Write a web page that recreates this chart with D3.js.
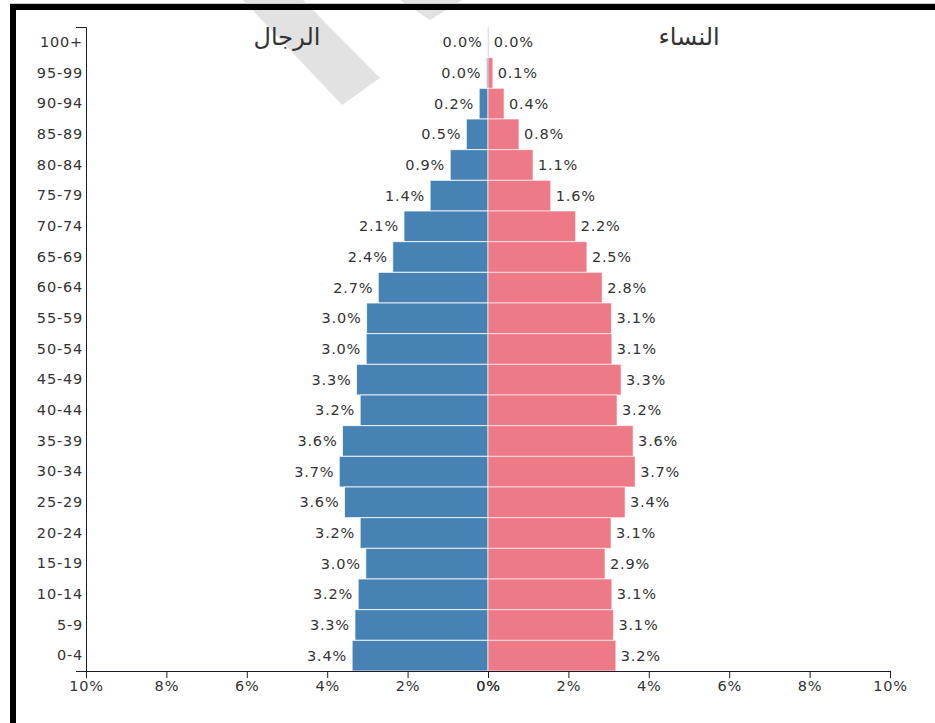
<!DOCTYPE html>
<html>
<head>
<meta charset="utf-8">
<script src="https://cdn.jsdelivr.net/npm/d3@7"></script>
<style>
  body { margin: 0; background: #fff; }
  text { font-family: "DejaVu Sans", sans-serif; }
</style>
</head>
<body>
<div id="chart"></div>
<script>
// age groups, top to bottom
const ages = ['100+', '95-99', '90-94', '85-89', '80-84', '75-79', '70-74', '65-69',
              '60-64', '55-59', '50-54', '45-49', '40-44', '35-39', '30-34', '25-29',
              '20-24', '15-19', '10-14', '5-9', '0-4'];

// share of population, percent
const men   = [0.01, 0.04, 0.22, 0.54, 0.94, 1.44, 2.09, 2.37, 2.73, 3.02, 3.03, 3.27,
               3.18, 3.62, 3.70, 3.57, 3.18, 3.04, 3.23, 3.31, 3.38];
const women = [0.02, 0.12, 0.40, 0.77, 1.12, 1.56, 2.18, 2.46, 2.84, 3.07, 3.08, 3.31,
               3.21, 3.61, 3.66, 3.41, 3.06, 2.91, 3.08, 3.12, 3.18];

const xTicks = [0, 2, 4, 6, 8, 10];
const titleMen = 'الرجال';
const titleWomen = 'النساء';

const W = 935, H = 723;
const svg = d3.select('#chart').append('svg')
    .attr('width', W)
    .attr('height', H);

// faint watermark stripes behind everything
svg.append('polygon')
    .attr('points', '253,0 303,0 380,78 342,105 243,0')
    .attr('fill', '#e2e2e2');
svg.append('polygon')
    .attr('points', '400,0 462,0 430,20')
    .attr('fill', '#e2e2e2');

// frame
svg.append('rect').attr('x', 10).attr('y', 3).attr('width', W - 10).attr('height', 1).attr('fill', '#cfcfcf');
svg.append('rect').attr('x', 10).attr('y', 4).attr('width', W - 10).attr('height', 6).attr('fill', '#000');
svg.append('rect').attr('x', 10).attr('y', 4).attr('width', 6).attr('height', H - 4).attr('fill', '#000');

const xLeft = d3.scaleLinear().domain([10, 0]).range([86, 488]);
const xRight = d3.scaleLinear().domain([0, 10]).range([488, 890]);
const y = d3.scaleBand().domain(ages).range([27, 671]);

const rows = ages.map((a, i) => ({age: a, m: men[i], w: women[i]}));
const fmt = v => v.toFixed(1) + '%';

svg.selectAll('.bar-m')
    .data(rows)
    .enter().append('rect')
    .attr('class', 'bar-m')
    .attr('x', d => xLeft(d.m))
    .attr('y', d => y(d.age))
    .attr('width', d => xLeft(0) - xLeft(d.m))
    .attr('height', y.bandwidth())
    .attr('fill', '#4682b4')
    .attr('stroke', '#fff')
    .attr('stroke-opacity', 0.8)
    .attr('stroke-width', 1);

svg.selectAll('.bar-w')
    .data(rows)
    .enter().append('rect')
    .attr('class', 'bar-w')
    .attr('x', xRight(0))
    .attr('y', d => y(d.age))
    .attr('width', d => xRight(d.w) - xRight(0))
    .attr('height', y.bandwidth())
    .attr('fill', '#ef7a87')
    .attr('stroke', '#fff')
    .attr('stroke-opacity', 0.6)
    .attr('stroke-width', 1);

// value labels
svg.selectAll('.lab-m')
    .data(rows)
    .enter().append('text')
    .attr('x', d => xLeft(d.m) - 5)
    .attr('y', d => y(d.age) + y.bandwidth() / 2)
    .attr('dy', '0.35em')
    .attr('text-anchor', 'end')
    .attr('font-size', 14.5)
    .attr('letter-spacing', 0.8)
    .attr('fill', '#333')
    .text(d => fmt(d.m));

svg.selectAll('.lab-w')
    .data(rows)
    .enter().append('text')
    .attr('x', d => xRight(d.w) + 5)
    .attr('y', d => y(d.age) + y.bandwidth() / 2)
    .attr('dy', '0.35em')
    .attr('text-anchor', 'start')
    .attr('font-size', 14.5)
    .attr('letter-spacing', 0.8)
    .attr('fill', '#333')
    .text(d => fmt(d.w));

// axes: two halves meeting at 0%
function styleAxis(g) {
  g.selectAll('path, line').attr('stroke', '#1c1c2a');
  g.selectAll('text')
    .attr('font-size', 14.5)
    .attr('letter-spacing', 0.8)
    .attr('fill', '#333')
    .attr('font-family', '"DejaVu Sans", sans-serif');
}

svg.append('g')
    .attr('transform', 'translate(0,671)')
    .call(d3.axisBottom(xLeft).tickValues(xTicks).tickFormat(d => d + '%')
        .tickSize(7).tickSizeOuter(7).tickPadding(3))
    .call(styleAxis);

svg.append('g')
    .attr('transform', 'translate(0,671)')
    .call(d3.axisBottom(xRight).tickValues(xTicks).tickFormat(d => d + '%')
        .tickSize(7).tickSizeOuter(7).tickPadding(3))
    .call(styleAxis);

svg.append('g')
    .attr('transform', 'translate(86,0)')
    .call(d3.axisLeft(y).tickSize(0).tickSizeOuter(10).tickPadding(3))
    .call(styleAxis);

// titles
svg.append('text')
    .attr('x', xLeft(5))
    .attr('y', 45)
    .attr('text-anchor', 'middle')
    .attr('font-size', 24)
    .attr('fill', '#333')
    .text(titleMen);

svg.append('text')
    .attr('x', xRight(5))
    .attr('y', 45)
    .attr('text-anchor', 'middle')
    .attr('font-size', 24)
    .attr('fill', '#333')
    .text(titleWomen);
</script>
</body>
</html>
